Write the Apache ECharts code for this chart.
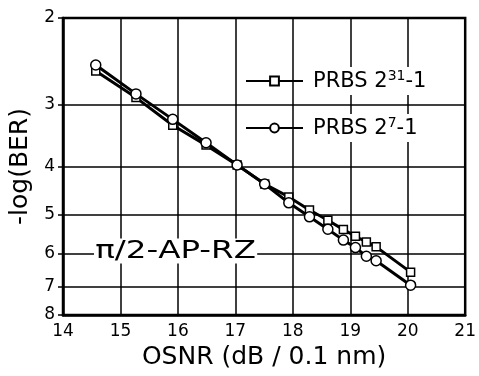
<!DOCTYPE html>
<html><head><meta charset="utf-8">
<script src="https://cdn.jsdelivr.net/npm/echarts@6/dist/echarts.min.js"></script>
<style>html,body{margin:0;padding:0;background:#fff}#c{width:479px;height:376px}</style>
</head><body><div id="c"></div>
<script>
// OSNR (dB / 0.1 nm)
const osnr = [14.57, 15.27, 15.91, 16.49, 17.03, 17.51, 17.93, 18.29, 18.61, 18.88, 19.09, 19.28, 19.45, 20.05];
// -log(BER)
const prbs31 = [2.56, 2.90, 3.30, 3.62, 3.97, 4.34, 4.61, 4.90, 5.14, 5.37, 5.54, 5.69, 5.82, 6.55];
const prbs7  = [2.49, 2.85, 3.21, 3.58, 3.97, 4.34, 4.74, 5.06, 5.36, 5.64, 5.84, 6.08, 6.21, 6.96];
const yTicks = [2, 3, 4, 5, 6, 7, 8];
const xTicks = [14, 15, 16, 17, 18, 19, 20, 21];
const seriesNames = ['PRBS 2^31-1', 'PRBS 2^7-1'];
const annotation = 'π/2-AP-RZ';

const FONT = 'DejaVu Sans, Liberation Sans, Arial, sans-serif';
const lg = v => Math.log10(v);
const pts = ys => osnr.map((x, i) => [x, lg(ys[i])]);

const chart = echarts.init(document.getElementById('c'), null, {renderer: 'canvas'});
chart.setOption({
  animation: false,
  backgroundColor: '#fff',
  grid: {left: 63, right: 13, top: 18, bottom: 61, show: true, borderColor: '#000', borderWidth: 2.5, backgroundColor: 'transparent'},
  xAxis: {
    type: 'value', min: xTicks[0], max: xTicks[xTicks.length - 1], interval: 1,
    name: 'OSNR (dB / 0.1 nm)', nameLocation: 'middle', nameGap: 28,
    nameTextStyle: {fontFamily: FONT, fontSize: 25, color: '#000'},
    axisLine: {lineStyle: {color: '#000', width: 2.5}},
    axisTick: {show: false},
    axisLabel: {fontFamily: FONT, fontSize: 17, color: '#000', margin: 8},
    splitLine: {show: true, lineStyle: {color: '#000', width: 1.5}}
  },
  yAxis: {
    type: 'value', min: lg(yTicks[0]), max: lg(yTicks[yTicks.length - 1]), inverse: true,
    name: '-log(BER)', nameLocation: 'middle', nameGap: 22,
    nameTextStyle: {fontFamily: FONT, fontSize: 25, color: '#000'},
    axisLine: {lineStyle: {color: '#000', width: 2.5}},
    axisTick: {show: true, length: 5, customValues: yTicks.map(lg), lineStyle: {color: '#000', width: 1.5}},
    axisLabel: {fontFamily: FONT, fontSize: 17, color: '#000', margin: 8,
      customValues: yTicks.map(lg), formatter: v => String(Math.round(Math.pow(10, v)))},
    splitLine: {show: true, lineStyle: {color: '#000', width: 1.5}}
  },
  legend: {
    orient: 'vertical', left: 245, top: 67, padding: 0, itemGap: 19, itemWidth: 57, itemHeight: 11,
    data: seriesNames,
    lineStyle: {width: 2},
    formatter: n => n.replace(/\^(\d+)/, '{sup|$1}'),
    textStyle: {fontFamily: FONT, fontSize: 21, lineHeight: 26, color: '#000', backgroundColor: '#fff', padding: [2, 2, 0, 5],
      rich: {sup: {fontFamily: FONT, fontSize: 14, lineHeight: 14, color: '#000', verticalAlign: 'top', backgroundColor: '#fff'}}}
  },
  graphic: [{
    type: 'text', x: 94, y: 251, scaleX: 1.3, z: 100,
    style: {text: annotation, fontFamily: FONT, fontSize: 25, fill: '#000', backgroundColor: '#fff',
      align: 'left', verticalAlign: 'middle', padding: [0, 1, 0, 1]}
  }],
  series: [
    {name: seriesNames[0], type: 'line', data: pts(prbs31), symbol: 'rect', symbolSize: 8,
     lineStyle: {color: '#000', width: 3}, itemStyle: {color: '#fff', borderColor: '#000', borderWidth: 1.5}, z: 3},
    {name: seriesNames[1], type: 'line', data: pts(prbs7), symbol: 'circle', symbolSize: 10,
     lineStyle: {color: '#000', width: 3}, itemStyle: {color: '#fff', borderColor: '#000', borderWidth: 1.5}, z: 4}
  ]
});
</script></body></html>
